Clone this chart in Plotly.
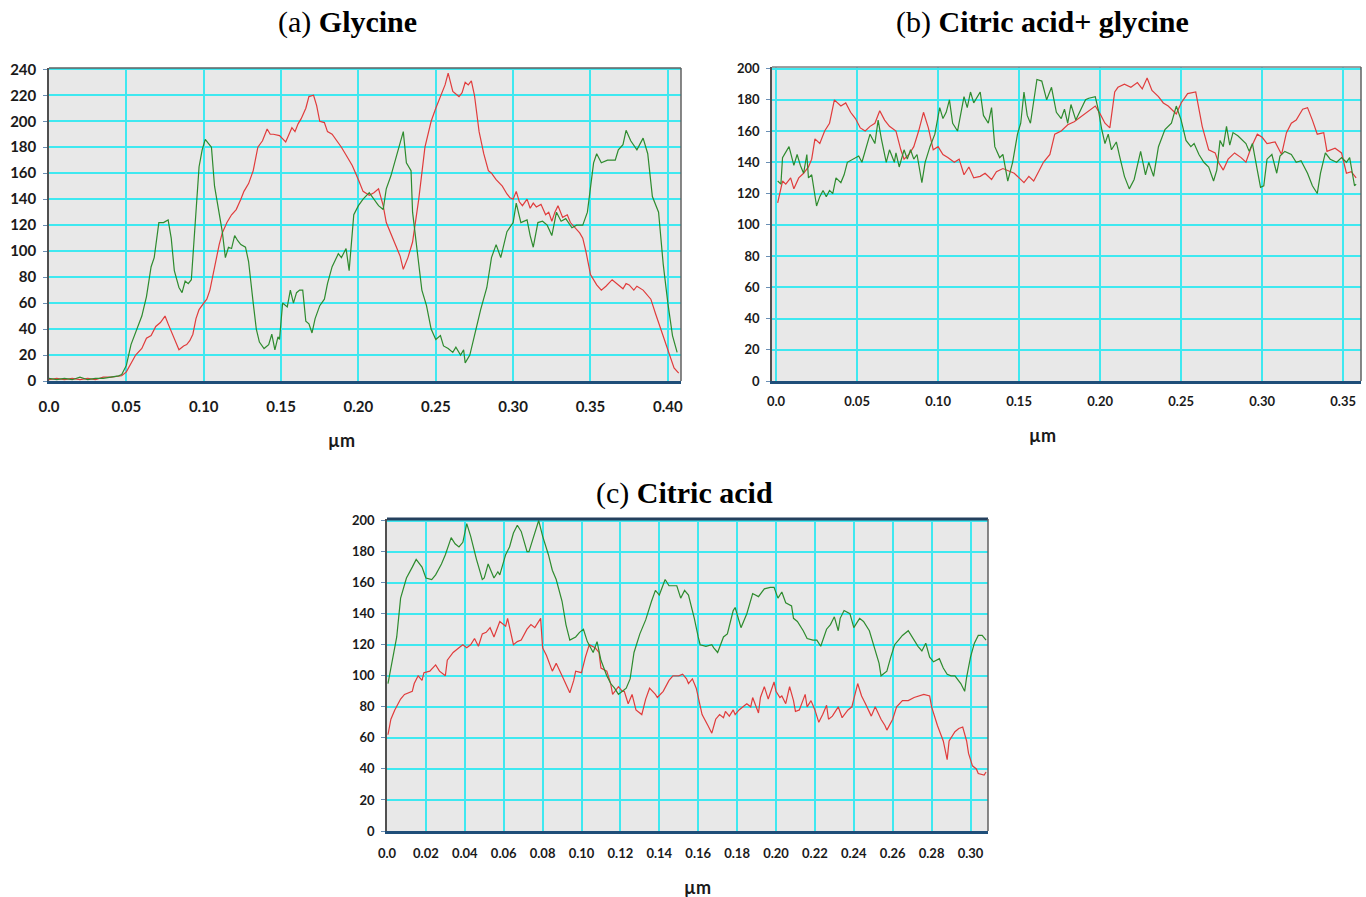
import plotly.graph_objects as go

W, H = 1366, 897

# ---------------- data ----------------
# (a) Glycine
a_red_x = [0.000,0.005,0.010,0.015,0.020,0.025,0.030,0.035,0.040,0.045,
           0.047,0.050,0.053,0.056,0.060,0.063,0.066,0.069,0.072,0.075,
           0.077,0.079,0.082,0.084,0.087,0.089,0.091,0.093,0.095,0.097,
           0.100,0.102,0.104,0.107,0.110,0.112,0.115,0.118,0.121,0.124,
           0.126,0.129,0.132,0.135,0.138,0.141,0.143,0.145,0.149,0.153,
           0.155,0.157,0.159,0.161,0.163,0.166,0.168,0.171,0.173,0.175,
           0.178,0.180,0.183,0.186,0.189,0.192,0.196,0.200,0.203,0.207,
           0.210,0.213,0.216,0.218,0.222,0.227,0.229,0.232,0.235,0.239,
           0.243,0.247,0.250,0.254,0.256,0.258,0.261,0.265,0.267,0.269,
           0.271,0.273,0.275,0.278,0.281,0.284,0.286,0.289,0.293,0.296,
           0.298,0.300,0.302,0.304,0.306,0.309,0.311,0.313,0.315,0.318,
           0.321,0.323,0.325,0.327,0.329,0.332,0.335,0.337,0.340,0.343,
           0.345,0.347,0.350,0.354,0.357,0.360,0.364,0.367,0.371,0.373,
           0.375,0.378,0.380,0.384,0.386,0.389,0.392,0.394,0.398,0.401,
           0.404,0.407]
a_red_y = [1,2,1,2,1,2,1,3,3,4,
           4,7,14,20,25,33,35,42,45,50,
           44,38,30,24,27,28,31,36,48,55,
           60,63,70,88,105,114,122,128,132,140,
           146,152,162,180,185,194,190,190,189,184,
           190,195,192,198,202,210,219,220,212,200,
           199,192,190,185,180,174,166,155,146,143,
           145,148,135,122,110,96,86,95,107,140,
           180,200,210,222,228,237,223,219,222,230,
           228,231,220,192,175,162,160,155,150,144,
           141,140,146,138,135,140,133,137,134,136,
           128,130,123,130,135,126,128,122,118,114,
           110,100,82,74,70,73,78,75,71,75,
           74,70,73,70,67,63,52,45,32,20,
           10,6]
a_green_x = [0.000,0.005,0.010,0.015,0.020,0.025,0.030,0.035,0.040,0.045,
             0.047,0.050,0.053,0.056,0.060,0.063,0.066,0.068,0.071,0.074,
             0.077,0.079,0.081,0.084,0.086,0.088,0.090,0.092,0.094,0.097,
             0.099,0.101,0.103,0.105,0.107,0.110,0.112,0.114,0.116,0.118,
             0.120,0.122,0.124,0.127,0.129,0.132,0.134,0.136,0.139,0.142,
             0.144,0.146,0.148,0.149,0.151,0.154,0.156,0.158,0.160,0.162,
             0.164,0.166,0.168,0.170,0.172,0.175,0.178,0.180,0.183,0.185,
             0.187,0.189,0.192,0.194,0.197,0.200,0.203,0.207,0.211,0.213,
             0.216,0.218,0.221,0.225,0.229,0.231,0.234,0.235,0.239,0.241,
             0.244,0.247,0.250,0.253,0.255,0.258,0.261,0.263,0.266,0.268,
             0.269,0.272,0.275,0.279,0.283,0.286,0.289,0.292,0.296,0.300,
             0.302,0.305,0.309,0.311,0.313,0.316,0.319,0.322,0.325,0.328,
             0.331,0.334,0.338,0.341,0.345,0.348,0.352,0.354,0.357,0.361,
             0.366,0.368,0.371,0.373,0.376,0.380,0.384,0.387,0.390,0.394,
             0.397,0.400,0.403,0.406]
a_green_y = [2,1,2,1,3,1,2,2,3,4,
             5,12,28,38,50,65,88,95,122,122,
             124,110,85,72,68,77,75,78,115,165,
             178,186,183,180,150,128,115,95,103,102,
             112,108,105,103,92,60,40,30,25,28,
             36,24,34,32,60,57,70,60,68,70,
             70,46,44,37,48,58,63,75,88,93,
             98,95,102,85,128,135,140,145,138,135,
             132,148,158,175,192,168,162,130,90,70,
             58,40,32,35,27,25,22,26,20,24,
             14,20,35,55,72,95,105,95,115,122,
             137,122,124,112,103,122,123,120,112,130,
             123,125,118,120,120,130,168,175,168,170,
             170,178,182,193,185,178,187,175,142,130,
             90,60,35,22]

# (b) Citric acid + glycine
b_red_x = [0.001,0.004,0.006,0.009,0.011,0.014,0.017,0.020,0.022,0.024,
           0.027,0.030,0.033,0.036,0.040,0.043,0.046,0.049,0.052,0.055,
           0.058,0.061,0.064,0.067,0.070,0.074,0.077,0.079,0.082,0.085,
           0.088,0.091,0.094,0.097,0.100,0.103,0.106,0.110,0.113,0.116,
           0.119,0.122,0.126,0.129,0.133,0.136,0.140,0.144,0.147,0.150,
           0.153,0.156,0.159,0.162,0.165,0.169,0.172,0.176,0.180,0.184,
           0.188,0.192,0.195,0.197,0.200,0.203,0.206,0.209,0.211,0.215,
           0.219,0.223,0.226,0.229,0.232,0.236,0.239,0.242,0.247,0.250,
           0.254,0.259,0.263,0.267,0.271,0.273,0.276,0.279,0.283,0.287,
           0.290,0.293,0.297,0.300,0.303,0.308,0.312,0.315,0.318,0.321,
           0.325,0.328,0.331,0.334,0.338,0.340,0.345,0.349,0.352,0.355,
           0.358]
b_red_y = [114,128,126,130,123,130,133,137,142,155,
           152,160,165,180,176,178,172,168,162,160,
           163,165,173,167,163,160,148,142,145,150,
           160,172,162,148,150,145,143,140,142,132,
           137,130,131,133,129,134,136,134,133,130,
           127,131,128,134,140,145,158,160,164,166,
           169,172,174,176,171,165,162,185,188,190,
           188,191,187,194,186,182,178,176,171,178,
           184,185,163,148,146,140,135,142,146,143,
           140,149,158,156,152,153,145,159,165,167,
           174,175,167,158,159,147,149,146,133,134,
           130]
b_green_x = [0.001,0.003,0.004,0.008,0.011,0.013,0.015,0.017,0.019,0.020,
             0.022,0.025,0.027,0.029,0.031,0.033,0.035,0.037,0.040,0.042,
             0.044,0.048,0.051,0.053,0.056,0.058,0.061,0.063,0.065,0.068,
             0.070,0.073,0.074,0.076,0.079,0.081,0.083,0.085,0.087,0.090,
             0.092,0.095,0.098,0.101,0.103,0.105,0.107,0.109,0.112,0.114,
             0.116,0.118,0.120,0.122,0.126,0.128,0.131,0.133,0.135,0.138,
             0.140,0.143,0.146,0.149,0.151,0.153,0.155,0.157,0.161,0.164,
             0.167,0.170,0.173,0.176,0.178,0.180,0.182,0.185,0.188,0.191,
             0.193,0.197,0.199,0.201,0.203,0.205,0.207,0.210,0.212,0.215,
             0.218,0.221,0.225,0.228,0.230,0.233,0.236,0.240,0.244,0.247,
             0.250,0.253,0.256,0.258,0.261,0.264,0.267,0.270,0.272,0.274,
             0.276,0.278,0.280,0.282,0.285,0.288,0.290,0.292,0.294,0.297,
             0.299,0.301,0.303,0.306,0.309,0.311,0.314,0.318,0.321,0.324,
             0.328,0.331,0.334,0.336,0.339,0.342,0.346,0.349,0.352,0.354,
             0.356,0.357,0.358]
b_green_y = [128,126,143,150,138,145,138,133,145,130,
             132,112,118,122,118,122,120,130,127,132,
             140,142,144,140,150,158,152,167,155,140,
             148,140,146,137,148,142,148,142,145,127,
             140,150,158,175,168,172,180,165,160,170,
             182,175,185,178,185,170,165,175,150,143,
             145,128,140,158,165,185,170,165,193,192,
             180,188,172,168,174,165,177,167,174,180,
             181,182,173,161,152,158,148,153,144,131,
             123,129,147,132,140,131,150,161,165,176,
             167,154,150,152,145,140,137,128,135,154,
             150,163,151,159,157,154,152,147,152,135,
             124,125,142,145,133,144,147,145,140,141,
             133,125,120,133,146,142,140,143,140,143,
             131,125,126]

# (c) Citric acid
c_green_x = [0.0005,0.003,0.005,0.007,0.010,0.013,0.015,0.018,0.020,0.023,
             0.025,0.028,0.030,0.033,0.035,0.037,0.039,0.041,0.043,0.046,
             0.049,0.050,0.052,0.055,0.057,0.058,0.061,0.063,0.065,0.067,
             0.069,0.072,0.073,0.075,0.078,0.080,0.083,0.085,0.087,0.090,
             0.092,0.094,0.097,0.099,0.101,0.103,0.106,0.108,0.110,0.113,
             0.115,0.117,0.119,0.121,0.123,0.125,0.127,0.130,0.133,0.136,
             0.138,0.140,0.143,0.145,0.149,0.151,0.153,0.155,0.158,0.160,
             0.161,0.164,0.167,0.168,0.170,0.173,0.175,0.178,0.179,0.182,
             0.184,0.185,0.188,0.191,0.194,0.197,0.199,0.201,0.203,0.205,
             0.208,0.209,0.211,0.214,0.216,0.219,0.221,0.223,0.226,0.228,
             0.230,0.232,0.233,0.235,0.238,0.240,0.243,0.245,0.248,0.250,
             0.253,0.254,0.257,0.259,0.261,0.263,0.265,0.268,0.270,0.273,
             0.275,0.277,0.279,0.281,0.284,0.286,0.288,0.290,0.292,0.295,
             0.297,0.298,0.300,0.302,0.304,0.306,0.308]
c_green_y = [95,113,125,150,163,170,175,170,163,162,
             165,172,178,189,185,183,186,198,190,175,
             162,163,172,163,167,165,178,183,192,197,
             193,180,180,188,200,190,178,168,162,148,
             133,123,125,128,130,122,115,122,110,100,
             95,92,88,90,92,98,115,127,136,148,
             155,152,162,158,158,150,155,152,137,125,
             120,119,120,118,115,125,127,142,144,131,
             137,140,153,151,156,157,157,150,154,147,
             145,137,135,129,124,123,123,119,130,133,
             138,129,137,142,140,131,137,135,129,120,
             108,100,103,112,120,123,126,129,125,119,
             116,121,112,109,111,105,101,100,100,95,
             90,99,112,121,126,126,123]
c_red_x = [0.0005,0.002,0.004,0.007,0.009,0.013,0.014,0.016,0.018,0.019,
           0.022,0.025,0.027,0.030,0.031,0.034,0.037,0.039,0.041,0.043,
           0.045,0.047,0.049,0.051,0.053,0.055,0.058,0.061,0.062,0.065,
           0.067,0.069,0.072,0.074,0.076,0.079,0.080,0.082,0.085,0.087,
           0.090,0.091,0.094,0.096,0.097,0.100,0.102,0.104,0.107,0.109,
           0.110,0.113,0.115,0.116,0.119,0.121,0.122,0.124,0.126,0.128,
           0.131,0.133,0.135,0.138,0.139,0.142,0.145,0.147,0.150,0.152,
           0.154,0.155,0.157,0.159,0.161,0.162,0.165,0.167,0.169,0.171,
           0.173,0.174,0.176,0.178,0.179,0.181,0.184,0.185,0.187,0.188,
           0.191,0.192,0.194,0.196,0.199,0.200,0.202,0.203,0.205,0.207,
           0.209,0.210,0.212,0.215,0.216,0.218,0.220,0.222,0.224,0.226,
           0.227,0.229,0.232,0.234,0.237,0.239,0.242,0.244,0.246,0.249,
           0.251,0.254,0.256,0.257,0.260,0.262,0.265,0.268,0.271,0.274,
           0.276,0.279,0.280,0.283,0.286,0.288,0.289,0.292,0.294,0.296,
           0.298,0.299,0.301,0.303,0.304,0.307,0.308]
c_red_y = [62,72,78,85,88,90,95,100,97,102,
           103,107,103,100,110,115,118,120,118,120,
           124,119,127,128,131,125,135,132,137,120,
           122,123,130,133,131,137,118,113,103,108,
           100,97,89,97,103,102,112,120,118,115,
           105,103,95,88,93,90,90,82,88,78,
           75,85,92,88,86,90,97,100,100,101,
           98,95,98,92,80,75,68,63,72,75,
           73,77,74,78,75,78,81,82,80,86,
           76,86,93,85,96,90,86,87,82,93,
           84,77,78,88,80,84,78,70,75,81,
           72,74,80,73,78,80,95,87,82,74,
           80,72,68,65,72,80,84,84,86,87,
           88,87,80,68,58,46,58,64,66,67,
           58,50,42,40,37,36,38]

a_xticks = [0.0, 0.05, 0.10, 0.15, 0.20, 0.25, 0.30, 0.35, 0.40]
a_xlabels = ["0.0", "0.05", "0.10", "0.15", "0.20", "0.25", "0.30", "0.35", "0.40"]
b_xticks = [0.0, 0.05, 0.10, 0.15, 0.20, 0.25, 0.30, 0.35]
b_xlabels = ["0.0", "0.05", "0.10", "0.15", "0.20", "0.25", "0.30", "0.35"]
c_xticks = [0.0, 0.02, 0.04, 0.06, 0.08, 0.10, 0.12, 0.14, 0.16, 0.18,
            0.20, 0.22, 0.24, 0.26, 0.28, 0.30]
c_xlabels = ["0.0", "0.02", "0.04", "0.06", "0.08", "0.10", "0.12", "0.14", "0.16", "0.18",
             "0.20", "0.22", "0.24", "0.26", "0.28", "0.30"]

titles = ["(a) <b>Glycine</b>", "(b) <b>Citric acid+ glycine</b>", "(c) <b>Citric acid</b>"]
unit_label = "µm"

RED = "#e03c3c"
GREEN = "#2e8b2e"
GRID = "#3ee8f0"
BG = "#e8e8e8"


def dx(px):
    return px / W


def dy(py):
    return 1 - py / H


fig = go.Figure()

series = [
    ("x", "y", a_red_x, a_red_y, RED), ("x", "y", a_green_x, a_green_y, GREEN),
    ("x2", "y2", b_red_x, b_red_y, RED), ("x2", "y2", b_green_x, b_green_y, GREEN),
    ("x3", "y3", c_red_x, c_red_y, RED), ("x3", "y3", c_green_x, c_green_y, GREEN),
]
for xa, ya, xs, ys, col in series:
    fig.add_trace(go.Scatter(x=xs, y=ys, mode="lines", xaxis=xa, yaxis=ya,
                             line=dict(color=col, width=1.2), showlegend=False,
                             hoverinfo="skip"))

tickfont_a = dict(family="Lato", size=15, color="#1a1a1a", weight="bold")
tickfont_b = dict(family="Lato", size=13, color="#1a1a1a", weight="bold")


def xax(domain, rng, tv, tt, font, standoff):
    return dict(domain=domain, range=rng, tickvals=tv, ticktext=tt, showgrid=True,
                gridcolor=GRID, gridwidth=1.5, zeroline=False, showline=True,
                linecolor="#1f4e79", linewidth=3, ticks="", tickfont=font,
                ticklabelstandoff=standoff, fixedrange=True, automargin=False)


def yax(domain, rng, font, anchor):
    return dict(domain=domain, range=rng, dtick=20, tick0=0, showgrid=True,
                gridcolor=GRID, gridwidth=2, zeroline=False, showline=True,
                linecolor="#505050", linewidth=1.5, ticks="outside", ticklen=4,
                tickcolor="#6a8fb5", tickfont=font, anchor=anchor, fixedrange=True,
                ticklabelstandoff=4, automargin=False)


fig.update_layout(
    width=W, height=H, margin=dict(l=0, r=0, t=0, b=0, autoexpand=False),
    paper_bgcolor="white", plot_bgcolor=BG,
    xaxis=xax([dx(49), dx(681)], [0, 0.4085], a_xticks, a_xlabels, tickfont_a, 10) | dict(anchor="y"),
    yaxis=yax([dy(381), dy(68)], [0, 241], tickfont_a, "x"),
    xaxis2=xax([dx(772), dx(1361)], [-0.0025, 0.361], b_xticks, b_xlabels, tickfont_b, 6) | dict(anchor="y2"),
    yaxis2=yax([dy(381), dy(67)], [0, 201], tickfont_b, "x2"),
    xaxis3=xax([dx(387), dx(988)], [0, 0.309], c_xticks, c_xlabels, tickfont_b, 8) | dict(anchor="y3"),
    yaxis3=yax([dy(831), dy(519)], [0, 201], tickfont_b, "x3"),
)

# borders (top/right)
borders = [("x", "y", "#606060", 1.5, "#606060", 1.5),
           ("x2", "y2", "#808080", 1.5, "#606060", 1.5),
           ("x3", "y3", "#24405e", 3, "#606060", 1.5)]
for xa, ya, tc, tw, rc, rw in borders:
    fig.add_shape(type="line", xref=f"{xa} domain", yref=f"{ya} domain",
                  x0=0, x1=1, y0=1, y1=1, line=dict(color=tc, width=tw), layer="above")
    fig.add_shape(type="line", xref=f"{xa} domain", yref=f"{ya} domain",
                  x0=1, x1=1, y0=0, y1=1, line=dict(color=rc, width=rw), layer="above")

title_font = dict(family="Liberation Serif", size=30, color="black")
for txt, px, py in [(titles[0], 347, 22), (titles[1], 1042, 22), (titles[2], 684, 493)]:
    fig.add_annotation(text=txt, x=dx(px), y=dy(py), xref="paper", yref="paper",
                       showarrow=False, font=title_font, xanchor="center", yanchor="middle")

unit_font = dict(family="Lato", size=18, color="#1a1a1a", weight="bold")
for px, py in [(341, 440), (1042, 435), (697, 887)]:
    fig.add_annotation(text=unit_label, x=dx(px), y=dy(py), xref="paper", yref="paper",
                       showarrow=False, font=unit_font, xanchor="center", yanchor="middle")

fig.write_html("out.html")
